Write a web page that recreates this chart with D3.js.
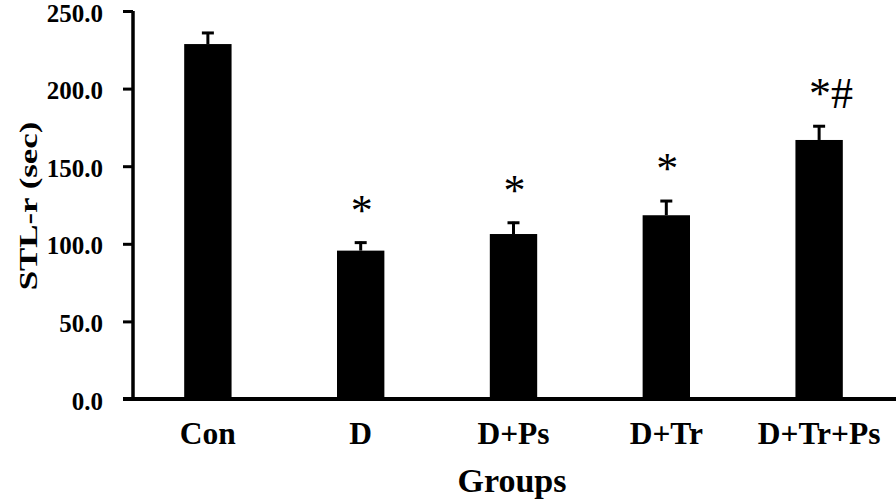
<!DOCTYPE html>
<html>
<head>
<meta charset="utf-8">
<script src="https://cdn.jsdelivr.net/npm/d3@7"></script>
<style>
  body { margin: 0; background: #fff; }
  text { font-family: "Liberation Serif", "Times New Roman", serif; }
</style>
</head>
<body>
<div class="chartContainer"></div>
<script>
var groups = ["Con", "D", "D+Ps", "D+Tr", "D+Tr+Ps"];
var means = [228.7, 95.6, 106.3, 118.4, 166.9];
var errors = [7.8, 5.8, 7.9, 9.8, 9.5];
var marks = ["", "*", "*", "*", "*#"];
var yTicks = [0, 50, 100, 150, 200, 250];

var width = 896, height = 503;

var svg = d3.select(".chartContainer")
    .append("svg")
    .attr("width", width)
    .attr("height", height);

var x = d3.scaleBand()
    .domain(groups)
    .range([133, 894])
    .paddingInner(0.69)
    .paddingOuter(0.335);

var y = d3.scaleLinear()
    .domain([0, 250])
    .range([399, 11]);

// bars
svg.selectAll("rect.bar")
    .data(means)
    .enter()
    .append("rect")
    .attr("class", "bar")
    .attr("fill", "#000")
    .attr("x", function (d, i) { return x(groups[i]); })
    .attr("width", x.bandwidth())
    .attr("y", function (d) { return y(d); })
    .attr("height", function (d) { return y(0) - y(d); });

// error bars (upper only)
var err = svg.selectAll("g.err")
    .data(means)
    .enter()
    .append("g")
    .attr("class", "err")
    .attr("stroke", "#000")
    .attr("stroke-width", 3);

err.append("line")
    .attr("x1", function (d, i) { return x(groups[i]) + x.bandwidth() / 2; })
    .attr("x2", function (d, i) { return x(groups[i]) + x.bandwidth() / 2; })
    .attr("y1", function (d) { return y(d); })
    .attr("y2", function (d, i) { return y(d + errors[i]); });

err.append("line")
    .attr("x1", function (d, i) { return x(groups[i]) + x.bandwidth() / 2 - 6; })
    .attr("x2", function (d, i) { return x(groups[i]) + x.bandwidth() / 2 + 6; })
    .attr("y1", function (d, i) { return y(d + errors[i]) + 1; })
    .attr("y2", function (d, i) { return y(d + errors[i]) + 1; });

// significance marks
svg.selectAll("text.mark")
    .data(marks)
    .enter()
    .append("text")
    .attr("class", "mark")
    .attr("x", function (d, i) { return x(groups[i]) + x.bandwidth() / 2 - 10; })
    .attr("y", function (d, i) { return y(means[i] + errors[i]) - 17; })
    .attr("font-size", 44)
    .attr("fill", "#000")
    .text(function (d) { return d; });

// y axis
var yAxis = d3.axisLeft(y)
    .tickValues(yTicks)
    .tickFormat(d3.format(".1f"))
    .tickSize(10)
    .tickPadding(20);

var gy = svg.append("g")
    .attr("transform", "translate(133,0)")
    .call(yAxis);
gy.select(".domain").attr("stroke-width", 3.5).attr("d", "M0," + y(250) + "V" + y(0));
gy.selectAll(".tick line").attr("stroke-width", 3);
gy.selectAll(".tick text")
    .attr("font-size", 25)
    .attr("font-weight", "bold")
    .attr("fill", "#000")
    .attr("dy", "0.4em")
    .style("font-family", "'Liberation Serif', serif");

// x axis
var xAxis = d3.axisBottom(x)
    .tickSize(0)
    .tickPadding(23);

var gx = svg.append("g")
    .attr("transform", "translate(0," + y(0) + ")")
    .call(xAxis);
gx.select(".domain").attr("stroke-width", 4).attr("d", "M123,0H896");
gx.selectAll(".tick text")
    .attr("font-size", 31.5)
    .attr("font-weight", "bold")
    .attr("fill", "#000")
    .style("font-family", "'Liberation Serif', serif");

// axis titles
svg.append("text")
    .attr("x", 512)
    .attr("y", 492)
    .attr("text-anchor", "middle")
    .attr("font-size", 34)
    .attr("font-weight", "bold")
    .text("Groups");

svg.append("text")
    .attr("transform", "translate(37,206) scale(1,1.34) rotate(-90)")
    .attr("text-anchor", "middle")
    .attr("font-size", 26)
    .attr("font-weight", "bold")
    .text("STL-r (sec)");
</script>
</body>
</html>
